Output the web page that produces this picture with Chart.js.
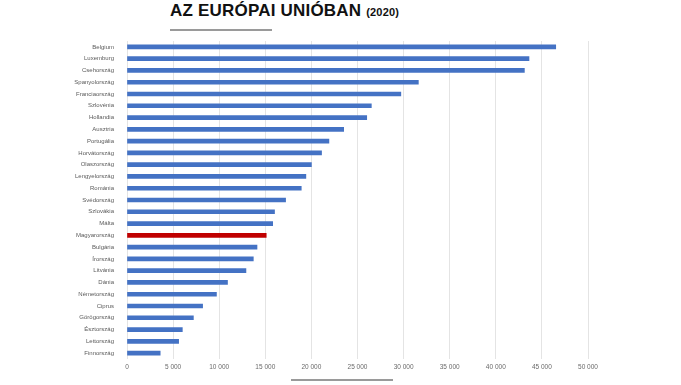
<!DOCTYPE html>
<html lang="hu">
<head>
<meta charset="UTF-8">
<title>Az Európai Unióban (2020)</title>
<style>
    html, body { margin: 0; padding: 0; background: #fff; }
    #wrap { position: relative; width: 681px; height: 385px; overflow: hidden; }
    #chart { position: absolute; left: 0; top: 0; }
    .title {
        position: absolute; left: 170px; top: 1px; margin: 0;
        font-family: "Liberation Sans", Arial, sans-serif; font-weight: bold;
        font-size: 17px; color: #111; white-space: nowrap; letter-spacing: 0.2px;
    }
    .title small { font-size: 11px; }
    .rule { position: absolute; height: 2px; background: #9a9a9a; }
</style>
</head>
<body>
<div id="wrap">
    <h1 class="title">AZ EURÓPAI UNIÓBAN <small>(2020)</small></h1>
    <div class="rule" style="left:170px; top:29px; width:102px;"></div>
    <canvas id="chart" width="681" height="385"></canvas>
    <div class="rule" style="left:291px; top:379px; width:102px;"></div>
</div>

<script src="https://cdn.jsdelivr.net/npm/chart.js"></script>
<script>
    const countries = [
        'Belgium', 'Luxemburg', 'Csehország', 'Spanyolország', 'Franciaország',
        'Szlovénia', 'Hollandia', 'Ausztria', 'Portugália', 'Horvátország',
        'Olaszország', 'Lengyelország', 'Románia', 'Svédország', 'Szlovákia',
        'Málta', 'Magyarország', 'Bulgária', 'Írország', 'Litvánia',
        'Dánia', 'Németország', 'Ciprus', 'Görögország', 'Észtország',
        'Lettország', 'Finnország'
    ];
    const values = [
        46500, 43600, 43100, 31600, 29700,
        26500, 26000, 23500, 21900, 21100,
        20000, 19400, 18900, 17200, 16000,
        15800, 15100, 14100, 13700, 12900,
        10900, 9700, 8200, 7200, 6000,
        5600, 3600
    ];
    const xMax = 50000;
    const xStep = 5000;

    const blue = '#4472C4';
    const red = '#C00000';
    const barColors = countries.map(c => c === 'Magyarország' ? red : blue);

    const chart = new Chart(document.getElementById('chart'), {
        type: 'bar',
        data: {
            labels: countries,
            datasets: [{
                data: values,
                backgroundColor: barColors,
                barThickness: 4
            }]
        },
        options: {
            indexAxis: 'y',
            responsive: false,
            animation: false,
            layout: { padding: { top: 41, right: 93, bottom: 0, left: 0 } },
            plugins: { legend: { display: false }, tooltip: { enabled: false } },
            scales: {
                x: {
                    min: 0,
                    max: xMax,
                    ticks: {
                        stepSize: xStep,
                        color: '#6a6a6a',
                        font: { family: 'Liberation Sans', size: 6.5 },
                        padding: 4,
                        callback: v => v === 0 ? '0' : String(v).replace(/\B(?=(\d{3})+(?!\d))/g, ' ')
                    },
                    grid: { color: '#e4e4e4', drawTicks: false },
                    border: { display: false },
                    afterFit: s => { s.height = 26; }
                },
                y: {
                    ticks: {
                        color: '#5a5a5a',
                        font: { family: 'Liberation Sans', size: 6 },
                        padding: 5,
                        autoSkip: false
                    },
                    grid: { display: false },
                    border: { display: false },
                    afterFit: s => { s.width = 127; }
                }
            }
        }
    });
</script>
</body>
</html>
